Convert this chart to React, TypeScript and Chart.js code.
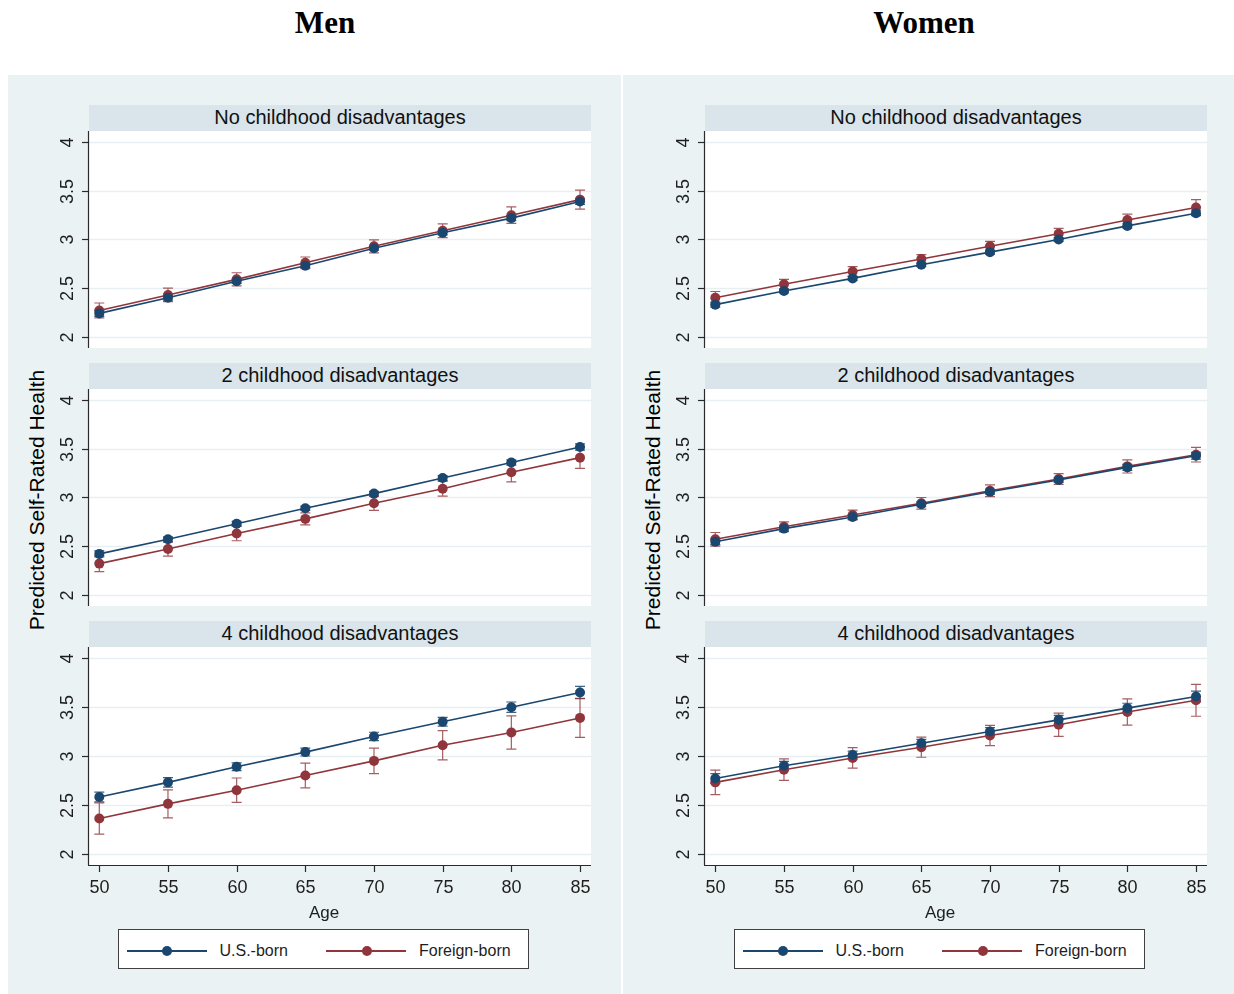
import React, { useEffect, useRef } from 'react';
import { Chart, registerables } from 'chart.js';
Chart.register(...registerables);

// ---------- DATA ----------
const AGES = [50, 55, 60, 65, 70, 75, 80, 85];
const X_TICKS = [50, 55, 60, 65, 70, 75, 80, 85];
const Y_TICKS = [2, 2.5, 3, 3.5, 4];
const PANEL_TITLES = ['No childhood disadvantages', '2 childhood disadvantages', '4 childhood disadvantages'];
const GROUP_TITLES = ['Men', 'Women'];
const SERIES_NAMES = ['U.S.-born', 'Foreign-born'];

const menNoUS = [2.24, 2.40, 2.57, 2.73, 2.91, 3.07, 3.22, 3.39];
const menNoFB = [2.27, 2.43, 2.59, 2.76, 2.93, 3.09, 3.25, 3.41];
const menNoUSci = [0.03, 0.025, 0.022, 0.02, 0.02, 0.022, 0.025, 0.03];
const menNoFBci = [0.077, 0.069, 0.068, 0.06, 0.067, 0.07, 0.085, 0.097];

const men2US = [2.42, 2.57, 2.73, 2.89, 3.04, 3.20, 3.36, 3.52];
const men2FB = [2.32, 2.47, 2.63, 2.78, 2.94, 3.09, 3.26, 3.41];
const men2USci = [0.03, 0.025, 0.025, 0.022, 0.022, 0.025, 0.028, 0.032];
const men2FBci = [0.082, 0.072, 0.075, 0.062, 0.072, 0.075, 0.1, 0.11];

const men4US = [2.58, 2.73, 2.89, 3.04, 3.20, 3.35, 3.50, 3.65];
const men4FB = [2.36, 2.51, 2.65, 2.80, 2.95, 3.11, 3.24, 3.39];
const men4USci = [0.05, 0.048, 0.04, 0.04, 0.043, 0.045, 0.053, 0.062];
const men4FBci = [0.16, 0.144, 0.125, 0.127, 0.13, 0.15, 0.17, 0.2];

const womenNoUS = [2.33, 2.47, 2.60, 2.74, 2.87, 3.00, 3.14, 3.27];
const womenNoFB = [2.40, 2.54, 2.67, 2.80, 2.93, 3.06, 3.20, 3.33];
const womenNoUSci = [0.025, 0.02, 0.02, 0.02, 0.02, 0.02, 0.022, 0.025];
const womenNoFBci = [0.065, 0.05, 0.05, 0.045, 0.05, 0.055, 0.06, 0.08];

const women2US = [2.545, 2.68, 2.80, 2.93, 3.06, 3.18, 3.31, 3.43];
const women2FB = [2.57, 2.70, 2.82, 2.94, 3.07, 3.19, 3.32, 3.44];
const women2USci = [0.03, 0.025, 0.025, 0.025, 0.025, 0.025, 0.03, 0.035];
const women2FBci = [0.07, 0.05, 0.05, 0.06, 0.06, 0.055, 0.068, 0.075];

const women4US = [2.77, 2.90, 3.01, 3.13, 3.25, 3.37, 3.49, 3.61];
const women4FB = [2.73, 2.86, 2.98, 3.09, 3.21, 3.32, 3.45, 3.57];
const women4USci = [0.05, 0.045, 0.04, 0.04, 0.04, 0.045, 0.05, 0.055];
const women4FBci = [0.125, 0.11, 0.105, 0.103, 0.103, 0.12, 0.134, 0.163];

const GROUPS = [
  [
    { us: menNoUS, fb: menNoFB, usCi: menNoUSci, fbCi: menNoFBci },
    { us: men2US, fb: men2FB, usCi: men2USci, fbCi: men2FBci },
    { us: men4US, fb: men4FB, usCi: men4USci, fbCi: men4FBci },
  ],
  [
    { us: womenNoUS, fb: womenNoFB, usCi: womenNoUSci, fbCi: womenNoFBci },
    { us: women2US, fb: women2FB, usCi: women2USci, fbCi: women2FBci },
    { us: women4US, fb: women4FB, usCi: women4USci, fbCi: women4FBci },
  ],
];

// ---------- STYLE ----------
const NAVY = '#1a476f';
const MAROON = '#90353b';
const NAVY_CI = 'rgba(26,71,111,0.85)';
const MAROON_CI = 'rgba(144,53,59,0.8)';
const BG = '#eaf2f3';
const STRIP = '#d9e5ea';
const GRID = '#e6eff1';
const AXIS = '#2a2a2a';
const FONT = '"Liberation Sans", Arial, sans-serif';

const X_MIN = 49.25;
const X_MAX = 85.8;
const Y_MIN = 1.884;
const Y_MAX = 4.116;

const decoPlugin = {
  id: 'panelDeco',
  beforeDraw(chart: any) {
    const { ctx, chartArea: a, scales } = chart;
    ctx.save();
    ctx.fillStyle = '#ffffff';
    ctx.fillRect(a.left, a.top, a.right - a.left, a.bottom - a.top);
    ctx.strokeStyle = GRID;
    ctx.lineWidth = 1.3;
    Y_TICKS.forEach((v) => {
      const y = Math.round(scales.y.getPixelForValue(v)) + 0.5;
      ctx.beginPath();
      ctx.moveTo(a.left, y);
      ctx.lineTo(a.right, y);
      ctx.stroke();
    });
    ctx.restore();
  },
  beforeDatasetsDraw(chart: any) {
    const { ctx, scales } = chart;
    ctx.save();
    chart.data.datasets.forEach((ds: any) => {
      ctx.strokeStyle = ds.ciColor;
      ctx.lineWidth = 1.2;
      ds.data.forEach((p: any, i: number) => {
        const x = scales.x.getPixelForValue(p.x);
        const y1 = scales.y.getPixelForValue(p.y - ds.ci[i]);
        const y2 = scales.y.getPixelForValue(p.y + ds.ci[i]);
        ctx.beginPath();
        ctx.moveTo(x, y1);
        ctx.lineTo(x, y2);
        ctx.moveTo(x - 5, y1);
        ctx.lineTo(x + 5, y1);
        ctx.moveTo(x - 5, y2);
        ctx.lineTo(x + 5, y2);
        ctx.stroke();
      });
    });
    ctx.restore();
  },
  afterDraw(chart: any) {
    const { ctx, chartArea: a, scales } = chart;
    const showX = chart.options.plugins.panelDeco.showX;
    ctx.save();
    ctx.strokeStyle = AXIS;
    ctx.lineWidth = 1.2;
    // y axis
    ctx.beginPath();
    ctx.moveTo(a.left - 0.5, a.top);
    ctx.lineTo(a.left - 0.5, a.bottom);
    ctx.stroke();
    ctx.fillStyle = '#1e1e1e';
    ctx.font = '18px ' + FONT;
    Y_TICKS.forEach((v) => {
      const y = Math.round(scales.y.getPixelForValue(v)) + 0.5;
      ctx.beginPath();
      ctx.moveTo(a.left - 7, y);
      ctx.lineTo(a.left, y);
      ctx.stroke();
      ctx.save();
      ctx.translate(a.left - 20.5, y);
      ctx.rotate(-Math.PI / 2);
      ctx.textAlign = 'center';
      ctx.textBaseline = 'middle';
      ctx.fillText(String(v), 0, 0);
      ctx.restore();
    });
    if (showX) {
      ctx.beginPath();
      ctx.moveTo(a.left - 1, a.bottom + 0.5);
      ctx.lineTo(a.right, a.bottom + 0.5);
      ctx.stroke();
      ctx.textAlign = 'center';
      ctx.textBaseline = 'middle';
      X_TICKS.forEach((v) => {
        const x = Math.round(scales.x.getPixelForValue(v)) + 0.5;
        ctx.beginPath();
        ctx.moveTo(x, a.bottom);
        ctx.lineTo(x, a.bottom + 7);
        ctx.stroke();
        ctx.fillText(String(v), x, a.bottom + 23);
      });
    }
    ctx.restore();
  },
};

type PanelProps = {
  plotLeft: number;
  plotTop: number;
  plotWidth: number;
  plotHeight: number;
  data: { us: number[]; fb: number[]; usCi: number[]; fbCi: number[] };
  showX: boolean;
};

function Panel({ plotLeft, plotTop, plotWidth, plotHeight, data, showX }: PanelProps) {
  const ref = useRef<HTMLCanvasElement | null>(null);
  const padL = 60;
  const padT = 8;
  const padR = 10;
  const padB = showX ? 40 : 8;
  const w = plotWidth + padL + padR;
  const h = plotHeight + padT + padB;

  useEffect(() => {
    if (!ref.current) return;
    const mk = (vals: number[]) => AGES.map((a, i) => ({ x: a, y: vals[i] }));
    const chart = new Chart(ref.current, {
      type: 'line',
      data: {
        datasets: [
          {
            label: SERIES_NAMES[0],
            data: mk(data.us),
            ci: data.usCi,
            ciColor: NAVY_CI,
            borderColor: NAVY,
            backgroundColor: NAVY,
            pointBackgroundColor: NAVY,
            pointBorderWidth: 0,
            pointRadius: 5,
            borderWidth: 1.6,
            tension: 0,
          } as any,
          {
            label: SERIES_NAMES[1],
            data: mk(data.fb),
            ci: data.fbCi,
            ciColor: MAROON_CI,
            borderColor: MAROON,
            backgroundColor: MAROON,
            pointBackgroundColor: MAROON,
            pointBorderWidth: 0,
            pointRadius: 5,
            borderWidth: 1.6,
            tension: 0,
          } as any,
        ],
      },
      options: {
        animation: false,
        responsive: false,
        devicePixelRatio: 1,
        layout: { padding: { left: padL, top: padT, right: padR, bottom: padB } },
        scales: {
          x: { type: 'linear', min: X_MIN, max: X_MAX, display: false },
          y: { type: 'linear', min: Y_MIN, max: Y_MAX, display: false },
        },
        plugins: {
          legend: { display: false },
          tooltip: { enabled: false },
          panelDeco: { showX },
        } as any,
      },
      plugins: [decoPlugin],
    });
    return () => chart.destroy();
  }, []);

  return (
    <canvas
      ref={ref}
      width={w}
      height={h}
      style={{ position: 'absolute', left: plotLeft - padL, top: plotTop - padT, width: w, height: h, display: 'block' }}
    />
  );
}

function LegendBox({ left, top }: { left: number; top: number }) {
  const item = (x: number, color: string, label: string) => (
    <>
      <div style={{ position: 'absolute', left: x, top: 20, width: 80, height: 2, background: color }} />
      <div style={{ position: 'absolute', left: x + 35.5, top: 16, width: 10, height: 10, borderRadius: '50%', background: color }} />
      <div style={{ position: 'absolute', left: x + 93, top: 1, height: 39, lineHeight: '39px', fontSize: 16, fontFamily: FONT, color: '#1e1e1e', whiteSpace: 'nowrap' }}>{label}</div>
    </>
  );
  return (
    <div style={{ position: 'absolute', left, top, width: 411, height: 40, boxSizing: 'border-box', border: '1.5px solid #404040', background: '#fff' }}>
      {item(7.5, NAVY, SERIES_NAMES[0])}
      {item(207, MAROON, SERIES_NAMES[1])}
    </div>
  );
}

export default function App() {
  const groupOffsets = [0, 616];
  return (
    <div style={{ position: 'absolute', left: 0, top: 0, width: 1234, height: 994, background: '#fff', overflow: 'hidden' }}>
      {groupOffsets.map((off, g) => (
        <React.Fragment key={g}>
          <div style={{ position: 'absolute', left: g === 0 ? 8 : 623, top: 75, width: g === 0 ? 613 : 611, height: 919, background: BG }} />
          <div style={{ position: 'absolute', left: 325 + (g === 0 ? 0 : 599), top: 22, transform: 'translate(-50%,-50%)', fontFamily: '"Liberation Serif", "Times New Roman", serif', fontWeight: 'bold', fontSize: 31, lineHeight: 1, color: '#000', whiteSpace: 'nowrap' }}>
            {GROUP_TITLES[g]}
          </div>
          <div style={{ position: 'absolute', left: 36 + off, top: 500, transform: 'translate(-50%,-50%) rotate(-90deg)', fontFamily: FONT, fontSize: 21, lineHeight: 1, color: '#000', whiteSpace: 'nowrap' }}>
            Predicted Self-Rated Health
          </div>
          {PANEL_TITLES.map((t, i) => (
            <div key={'s' + i} style={{ position: 'absolute', left: 89 + off, top: 105 + 258 * i, width: 502, height: 26, background: STRIP, fontFamily: FONT, fontSize: 20, lineHeight: '25px', textAlign: 'center', color: '#111' }}>
              {t}
            </div>
          ))}
          {GROUPS[g].map((d, i) => (
            <Panel key={'p' + i} plotLeft={89 + off} plotTop={131 + 258 * i} plotWidth={502} plotHeight={i === 2 ? 218 : 217} data={d} showX={i === 2} />
          ))}
          <div style={{ position: 'absolute', left: 324 + off, top: 912, transform: 'translate(-50%,-50%)', fontFamily: FONT, fontSize: 17, lineHeight: 1, color: '#1e1e1e' }}>
            Age
          </div>
          <LegendBox left={118 + off} top={929} />
        </React.Fragment>
      ))}
    </div>
  );
}
